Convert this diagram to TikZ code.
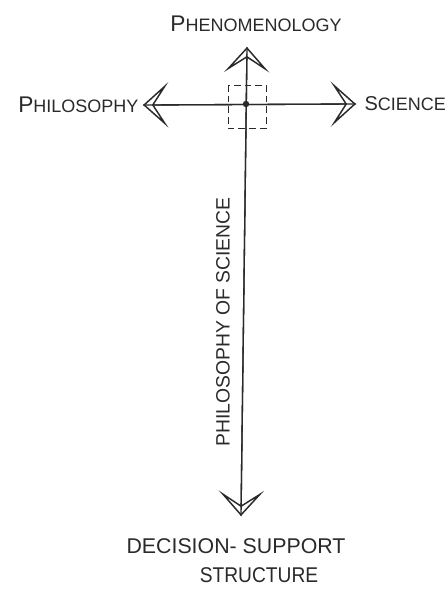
\documentclass[tikz,border=0pt]{standalone}
\usepackage{fontspec}
\setmainfont{Liberation Sans}
\usetikzlibrary{arrows.meta}
\definecolor{ink}{HTML}{2A2A2A}
\tikzset{
  handtip/.tip={Stealth[open, length=19pt, width=34pt, inset=11pt, line width=1.1pt]},
  axis/.style={draw=ink, line width=1pt},
  lab/.style={text=ink, font=\fontsize{13.5}{16}\selectfont, inner sep=1pt},
  big/.style={text=ink, font=\fontsize{16}{19}\selectfont, inner sep=1pt},
  box/.style={draw=ink, dashed, line width=0.7pt, dash pattern=on 5pt off 3pt}
}
\begin{document}
\begin{tikzpicture}[x=0.75pt,y=-0.75pt]
\useasboundingbox (0,0) rectangle (448,589);
\coordinate (C) at (246,104);
\coordinate (L) at (143,105);
\coordinate (R) at (356,104);
\coordinate (T) at (247,47);
\coordinate (B) at (241,516);
% axes
\draw[axis] (L) -- (R);
\draw[axis] (T) -- (B);
\draw[axis, handtip-handtip] (L) -- (R);
\draw[axis, handtip-handtip] (T) -- (B);
% center
\draw[box] (228,85) rectangle (266,128);
\fill[ink] (C) circle (3.2);
% labels
\node[lab] (phen) at (256,24) {{\fontsize{17}{18}\selectfont P}HENOMENOLOGY};
\node[lab, anchor=east] (phil) at (140,105) {{\fontsize{17}{18}\selectfont P}HILOSOPHY};
\node[lab, anchor=west] (sci) at (363,104) {{\fontsize{15}{18}\selectfont S}CIENCE};
\node[lab, rotate=90, font=\fontsize{14.5}{16}\selectfont] (pos) at (223,322) {PHILOSOPHY OF SCIENCE};
\node[big] (dss1) at (236,546) {DECISION- SUPPORT};
\node[big] (dss2) at (259,575) {\scalebox{0.9}[1]{STRUCTURE}};
\end{tikzpicture}
\end{document}
